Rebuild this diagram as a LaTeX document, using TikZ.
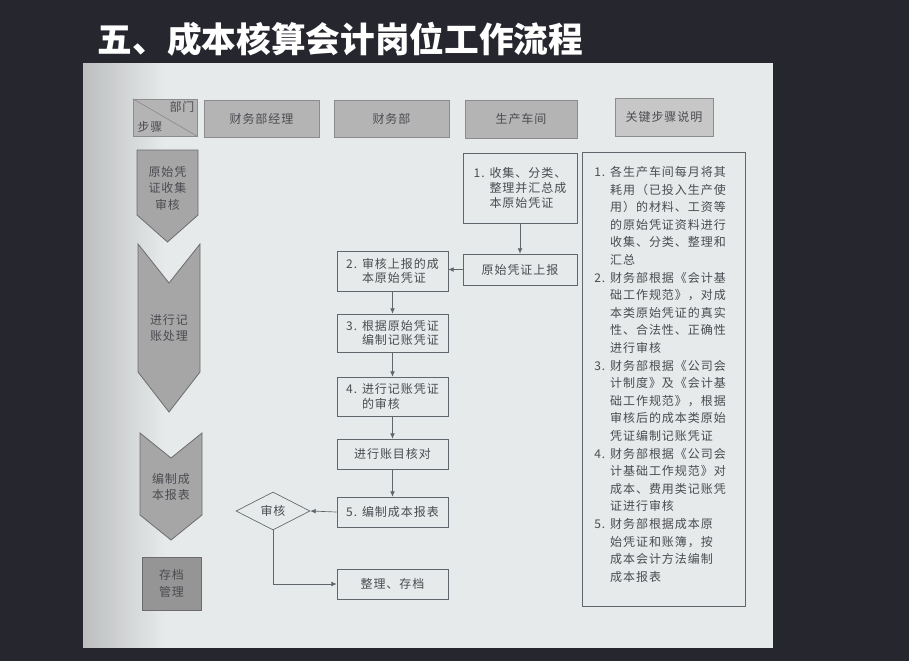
\documentclass[tikz,border=0pt]{standalone}
\usepackage{fontspec}
\setmainfont{Noto Sans CJK SC}
\newfontfamily\cjk[LetterSpace=8]{Noto Sans CJK SC}
\usetikzlibrary{arrows.meta,shapes.geometric}
\definecolor{bgdark}{HTML}{26262F}
\definecolor{paper}{HTML}{E6EAEA}
\definecolor{paperdark}{HTML}{BDBFC0}
\definecolor{headfill}{HTML}{B4B4B4}
\definecolor{headline}{HTML}{8C8C8C}
\definecolor{chevfill}{HTML}{A6A6A6}
\definecolor{chevline}{HTML}{6C6C6C}
\definecolor{boxline}{HTML}{5F676C}
\definecolor{ink}{HTML}{4B4B52}
\begin{document}
\begin{tikzpicture}[x=.75pt,y=-.75pt,line width=.5pt,font={\cjk\fontsize{9}{11}\selectfont},
  headbox/.style={draw=headline,fill=headfill,text=ink,inner sep=0pt},
  chevron/.style={draw=chevline,fill=chevfill,line width=.6pt},
  steptext/.style={text=ink,align=center,font={\cjk\fontsize{9}{12.4}\selectfont}},
  flowbox/.style={draw=boxline,text=ink,inner sep=0pt,align=left,minimum width=83.25pt},
  flowarrow/.style={draw=boxline,-{Latex[length=4pt,width=3.5pt]}}]
\useasboundingbox (0,0) rectangle (909,661);
\fill[bgdark] (0,0) rectangle (909,661);
\fill[paper] (83,63) rectangle (773,648);
\foreach \i [evaluate=\i as \mix using int(\i*5)] in {0,...,19}{\fill[paper!\mix!paperdark] ({83+4*\i},63) rectangle ({87.5+4*\i},648);}
\node[anchor=west,text=white,font={\bfseries\fontsize{26}{30}\selectfont}] (title) at (93,39) {五、成本核算会计岗位工作流程};
\node[headbox,minimum width=48pt,minimum height=27.75pt] (hdcorner) at (165,117.5) {};
\draw[headline] (hdcorner.north west)--(hdcorner.south east);
\node[text=ink,inner sep=0pt] (hddept) at (182,107) {部门};
\node[text=ink,inner sep=0pt] (hdstep) at (150,127) {步骤};
\node[headbox,minimum width=86.25pt,minimum height=27.75pt] (hdmgr) at (261.5,118.5) {财务部经理};
\node[headbox,minimum width=86.25pt,minimum height=27.75pt] (hdfin) at (391.5,118.5) {财务部};
\node[headbox,minimum width=84pt,minimum height=28.5pt] (hdshop) at (521,119) {生产车间};
\node[headbox,fill=headfill!75!white,minimum width=73.5pt,minimum height=28.5pt] (hdnote) at (664,117) {关键步骤说明};
\draw[chevron] (137,150)--(198,150)--(198,215)--(167.5,242)--(137,215)--cycle;
\node[steptext] (stepA) at (167.5,188) {原始凭\\证收集\\审核};
\draw[chevron] (138,244)--(169,283)--(200,244)--(200,372)--(169,412)--(138,372)--cycle;
\node[steptext] (stepB) at (169,328) {进行记\\账处理};
\draw[chevron] (140,433)--(171,458)--(202,433)--(202,515)--(171,540)--(140,515)--cycle;
\node[steptext] (stepC) at (171,487) {编制成\\本报表};
\node[chevron,text=ink,align=center,font={\cjk\fontsize{9}{12.4}\selectfont},fill=chevfill!90!black,minimum width=44.25pt,minimum height=39.75pt,inner sep=0pt] (stepD) at (171.5,583.5) {存档\\管理};
\node[flowbox,minimum width=85.5pt,minimum height=52.5pt] (box1) at (520,188) {1. 收集、分类、\\\phantom{1. }整理并汇总成\\\phantom{1. }本原始凭证};
\node[flowbox,align=center,minimum width=85.5pt,minimum height=23.25pt] (report) at (520,269.5) {原始凭证上报};
\node[flowbox,minimum height=30pt] (box2) at (392.5,271) {2. 审核上报的成\\\phantom{2. }本原始凭证};
\node[flowbox,minimum height=28.5pt] (box3) at (392.5,333) {3. 根据原始凭证\\\phantom{3. }编制记账凭证};
\node[flowbox,minimum height=29.25pt] (box4) at (392.5,396.5) {4. 进行记账凭证\\\phantom{4. }的审核};
\node[flowbox,align=center,minimum height=22.5pt] (check) at (392.5,454) {进行账目核对};
\node[flowbox,align=center,minimum height=22.5pt] (box5) at (392.5,512) {5. 编制成本报表};
\node[draw=boxline,text=ink,diamond,aspect=1.9,inner sep=0pt,minimum width=55.5pt,minimum height=28.5pt] (audit) at (273,511) {审核};
\node[flowbox,align=center,minimum height=22.5pt] (archive) at (392.5,584) {整理、存档};
\draw[flowarrow] (box1.south)--(report.north);
\draw[flowarrow] (report.west)--(report.west -| box2.east);
\draw[flowarrow] (box2)--(box3);
\draw[flowarrow] (box3)--(box4);
\draw[flowarrow] (box4)--(check);
\draw[flowarrow] (check)--(box5);
\draw[flowarrow] (box5.west)--(audit.east);
\draw[flowarrow] (audit.south) |- (archive.west);
\node[draw=boxline,minimum width=122.25pt,minimum height=340.5pt,inner sep=0pt] (notes) at (663.5,379) {};
\node[anchor=north west,text=ink,align=left,inner sep=0pt,font={\cjk\fontsize{9}{13.2}\selectfont}] (notetext) at (594,166) {1. 各生产车间每月将其\\\phantom{1. }耗用（已投入生产使\\\phantom{1. }用）的材料、工资等\\\phantom{1. }的原始凭证资料进行\\\phantom{1. }收集、分类、整理和\\\phantom{1. }汇总\\2. 财务部根据《会计基\\\phantom{2. }础工作规范》，对成\\\phantom{2. }本类原始凭证的真实\\\phantom{2. }性、合法性、正确性\\\phantom{2. }进行审核\\3. 财务部根据《公司会\\\phantom{3. }计制度》及《会计基\\\phantom{3. }础工作规范》，根据\\\phantom{3. }审核后的成本类原始\\\phantom{3. }凭证编制记账凭证\\4. 财务部根据《公司会\\\phantom{4. }计基础工作规范》对\\\phantom{4. }成本、费用类记账凭\\\phantom{4. }证进行审核\\5. 财务部根据成本原\\\phantom{5. }始凭证和账簿，按\\\phantom{5. }成本会计方法编制\\\phantom{5. }成本报表};
\end{tikzpicture}
\end{document}
